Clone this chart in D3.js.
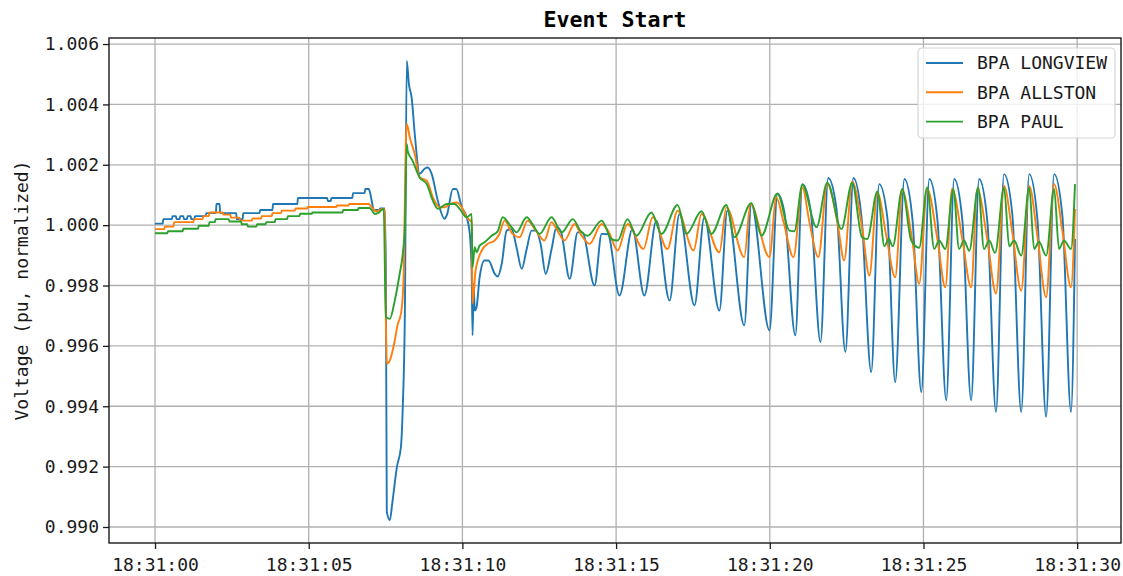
<!DOCTYPE html>
<meta charset="utf-8">
<html>
<style>
body { margin: 0; background: #fff; }
svg { display: block; font-family: "DejaVu Sans Mono", monospace; }
.tick text { font-size: 18px; fill: #1a1a1a; }
.tick line { stroke: #1a1a1a; stroke-width: 1.3px; }
.grid line { stroke: #b0b0b0; stroke-width: 1.3px; }
</style>
<svg width="1123" height="576"></svg>
<script src="https://d3js.org/d3.v7.min.js"></script>
<script>
// seconds after 18:31:00, voltage (pu, normalized)
var longview = [
  [0,1.00005],[0.25,1.00005],[0.27,1.0002],[0.55,1.0002],[0.57,1.0003],[0.68,1.0003],[0.7,1.0002],[0.8,1.0002],[0.82,1.0003],[0.92,1.0003],[0.94,1.0002],[1.04,1.0002],[1.06,1.0003],[1.16,1.0003],[1.18,1.0002],[1.28,1.0002],[1.3,1.0003],[1.65,1.0003],[1.67,1.0004],[1.98,1.0004],[2.0,1.0007],[2.1,1.0007],[2.12,1.0004],[2.64,1.0004],[2.66,1.0002],[2.85,1.0002],[2.87,1.0004],[3.4,1.0004],[3.42,1.0005],[3.82,1.0005],[3.84,1.0007],[4.63,1.0007],[4.65,1.0009],[5.6,1.0009],[5.62,1.0008],[5.72,1.0008],[5.74,1.0009],[6.42,1.0009],[6.44,1.00106],[6.82,1.00106],[6.84,1.0012],[6.95,1.0012],[7.0,1.00106],[7.05,1.0008],[7.12,1.0005],[7.3,1.0005],[7.32,1.00055],[7.47,1.00055],
  [7.51,0.9985],[7.54,0.99051],[7.64,0.99023],[7.72,0.9908],[7.87,0.99199],[8.0,0.99265],[8.06,0.99398],[8.13,0.99728],[8.19,1.00544],[8.26,1.00467],[8.35,1.00422],[8.45,1.00302],[8.61,1.0017],[8.77,1.00187],[8.87,1.00191],[9.0,1.0017],[9.2,1.00081],[9.42,1.00021],[9.5,1.00035],[9.69,1.0012],[9.8,1.0012],[9.98,1.00059],[10.14,1.00026],[10.24,0.99972],[10.3,0.9985],[10.33,0.99635],[10.37,0.99806],[10.4,0.99717],[10.46,0.99728],[10.56,0.99827],[10.72,0.99883],[10.85,0.99883],[11.05,0.99839],[11.15,0.9983],[11.28,0.99872],[11.44,0.99982],[11.6,0.99987],[11.76,0.99927],[11.93,0.99855],[12.09,0.9992],[12.25,0.99982],[12.4,0.99982],[12.55,0.99935],[12.71,0.99839],[12.9,0.9992],[13.06,0.99993],[13.2,0.9998],[13.49,0.99822],[13.75,0.99976],[13.9,0.99976],[14.3,0.998],[14.53,0.99971],[14.73,0.9997],[15.11,0.99767],[15.53,0.99987],[15.92,0.99767],[16.31,1.00015],[16.74,0.9975],[17.06,1.00037],[17.55,0.99734],[17.87,1.00026],[18.36,0.99717],[18.62,1.00048],[19.17,0.99668],[19.4,1.0007],[19.99,0.99651],[20.25,1.00103],[20.48,1.0004],[20.83,0.99635],[21.06,1.00136],[21.33,1.00048],[21.65,0.99613],[21.9,1.00156],[22.17,1.00054],[22.46,0.9958],[22.72,1.00156],[22.99,1.0002],[23.3,0.99513],[23.56,1.00136],[23.83,1.0002],[24.08,0.9948],[24.38,1.00153],[24.65,1.0001],[24.93,0.99447],[25.19,1.00153],[25.46,1.0001],[25.74,0.9942],[26.0,1.00153],[26.27,1.0001],[26.55,0.9942],[26.81,1.00153],[27.08,1.0001],[27.36,0.99381],[27.62,1.00169],[27.89,1.00037],[28.18,0.99381],[28.44,1.00169],[28.71,1.00015],[28.99,0.99365],[29.25,1.00169],[29.52,1.0003],[29.8,0.99381],[29.93,0.99954]
];
var allston = [
  [0,0.99987],[0.3,0.99987],[0.32,0.99995],[0.6,0.99995],[0.62,1.0001],[1.25,1.0001],[1.27,1.0002],[1.55,1.0002],[1.57,1.0003],[1.75,1.0003],[1.77,1.00042],[2.2,1.00042],[2.22,1.00035],[2.45,1.00035],[2.47,1.00025],[2.75,1.00025],[2.77,1.00015],[3.15,1.00015],[3.17,1.00022],[3.45,1.00022],[3.47,1.0003],[3.8,1.0003],[3.82,1.0004],[4.1,1.0004],[4.12,1.00048],[4.55,1.00048],[4.57,1.00055],[4.95,1.00055],[4.97,1.0006],[5.9,1.0006],[5.92,1.00065],[6.3,1.00065],[6.32,1.0007],[6.95,1.0007],[7.05,1.0006],[7.2,1.00045],[7.38,1.00054],[7.47,1.0005],
  [7.51,0.99684],[7.54,0.99541],[7.64,0.99552],[7.8,0.99618],[7.9,0.99673],[7.96,0.9969],[8.03,0.99728],[8.09,0.99839],[8.16,1.00279],[8.19,1.00335],[8.29,1.0029],[8.45,1.00235],[8.61,1.00158],[8.84,1.00147],[9.04,1.00092],[9.26,1.00059],[9.42,1.00059],[9.59,1.0007],[9.81,1.00075],[9.98,1.00059],[10.14,1.00026],[10.3,1.00009],[10.33,0.9974],[10.43,0.9985],[10.63,0.99916],[10.82,0.99938],[11.05,0.99949],[11.2,0.9997],[11.37,1.00015],[11.63,0.99971],[11.86,0.9996],[12.12,1.00015],[12.4,0.9998],[12.67,0.99949],[12.9,1.0001],[13.1,0.9998],[13.32,0.99949],[13.65,1.00004],[13.85,0.9997],[14.14,0.99938],[14.53,1.00004],[14.75,0.9998],[15.05,0.99916],[15.37,1.00004],[15.89,0.99921],[16.19,1.00026],[16.67,0.99921],[17.0,1.00048],[17.52,0.99916],[17.78,1.00037],[18.36,0.9991],[18.59,1.00059],[19.17,0.99894],[19.37,1.0007],[19.99,0.99894],[20.21,1.00092],[20.45,1.0001],[20.77,0.99894],[21.06,1.00125],[21.29,1.0001],[21.58,0.99894],[21.87,1.00138],[22.2,1.0001],[22.42,0.99883],[22.68,1.00145],[23.01,0.99987],[23.24,0.99833],[23.5,1.00108],[23.79,0.99965],[24.08,0.99827],[24.31,1.00114],[24.63,0.99954],[24.86,0.99806],[25.12,1.0012],[25.46,0.99949],[25.71,0.99794],[25.93,1.0012],[26.27,0.9995],[26.55,0.99794],[26.75,1.0012],[27.08,0.9995],[27.36,0.99773],[27.62,1.0013],[27.89,0.99976],[28.18,0.99783],[28.44,1.0013],[28.71,0.9996],[28.99,0.99761],[29.25,1.00136],[29.52,0.9998],[29.8,0.99794],[29.93,1.00054]
];
var paul = [
  [0,0.99973],[0.4,0.99973],[0.42,0.9998],[0.9,0.9998],[0.92,0.99988],[1.4,0.99988],[1.42,0.99998],[1.75,0.99998],[1.77,1.0001],[1.95,1.0001],[1.97,1.0002],[2.4,1.0002],[2.42,1.00012],[2.8,1.00012],[2.82,1.00003],[3.0,1.00003],[3.02,0.99995],[3.3,0.99995],[3.32,1.00003],[3.6,1.00003],[3.62,1.0001],[3.9,1.0001],[3.92,1.0002],[4.3,1.0002],[4.32,1.0003],[4.7,1.0003],[4.72,1.00038],[5.1,1.00038],[5.12,1.00042],[6.1,1.00042],[6.12,1.0005],[6.6,1.0005],[6.62,1.00057],[6.98,1.00057],[7.05,1.0005],[7.15,1.00037],[7.25,1.0004],[7.44,1.00054],
  [7.51,0.99695],[7.64,0.9969],[7.8,0.9975],[7.96,0.99839],[8.06,0.99905],[8.13,1.0],[8.19,1.00268],[8.22,1.00246],[8.38,1.00213],[8.61,1.00158],[8.84,1.00136],[9.04,1.00081],[9.2,1.00054],[9.49,1.0007],[9.75,1.0007],[9.91,1.00054],[10.14,1.00026],[10.3,1.00037],[10.33,0.9986],[10.4,0.99927],[10.46,0.9991],[10.56,0.99932],[10.72,0.99943],[10.95,0.99965],[11.15,0.9998],[11.31,1.00026],[11.6,0.99993],[11.76,0.99976],[12.09,1.00026],[12.3,1.0],[12.51,0.99971],[12.9,1.00026],[13.23,0.99976],[13.59,1.0002],[13.85,0.9998],[14.07,0.99965],[14.53,1.00015],[14.85,0.99954],[15.05,0.99949],[15.37,1.0002],[15.66,0.99965],[16.15,1.00042],[16.48,0.99971],[17.0,1.00067],[17.29,0.99971],[17.78,1.00046],[18.1,0.99971],[18.59,1.00067],[18.85,0.9996],[19.4,1.00073],[19.73,0.99965],[20.25,1.00105],[20.64,0.99982],[20.8,0.9998],[21.06,1.00134],[21.52,0.99993],[21.87,1.00141],[22.33,0.99987],[22.68,1.00141],[23.0,0.9996],[23.17,0.99954],[23.5,1.00112],[23.73,0.9993],[23.87,0.99955],[24.0,0.9993],[24.31,1.0012],[24.6,0.9995],[24.86,0.99925],[25.12,1.00125],[25.35,0.99921],[25.51,0.99949],[25.71,0.99921],[25.97,1.0012],[26.16,0.99921],[26.32,0.99949],[26.49,0.99915],[26.78,1.00125],[26.97,0.99921],[27.14,0.99949],[27.33,0.99908],[27.62,1.00125],[27.79,0.9993],[27.95,0.99949],[28.18,0.99899],[28.44,1.00125],[28.6,0.99921],[28.76,0.99945],[28.99,0.99899],[29.25,1.0012],[29.41,0.99921],[29.57,0.99949],[29.8,0.99921],[29.93,1.00136]
];

var seriesNames = ["BPA LONGVIEW", "BPA ALLSTON", "BPA PAUL"];
var seriesColors = ["#1f77b4", "#ff7f0e", "#2ca02c"];
var yTicks = [0.990, 0.992, 0.994, 0.996, 0.998, 1.000, 1.002, 1.004, 1.006];
var xTickSeconds = [0, 5, 10, 15, 20, 25, 30];
var startTime = new Date(2020, 0, 1, 18, 31, 0);

var series = [longview, allston, paul];

var svg = d3.select("svg"),
    margin = {top: 38, right: 2, bottom: 33, left: 109},
    width = +svg.attr("width") - margin.left - margin.right,
    height = +svg.attr("height") - margin.top - margin.bottom;

svg.append("rect").attr("width", 1123).attr("height", 576).attr("fill", "#fff");

var g = svg.append("g").attr("transform", "translate(" + margin.left + "," + margin.top + ")");

function toDate(s) { return new Date(startTime.getTime() + s * 1000); }

// matplotlib-style 5% margins around the data
var allPts = d3.merge(series);
var tExt = d3.extent(allPts, d => d[0]), vExt = d3.extent(allPts, d => d[1]);
var tPad = (tExt[1] - tExt[0]) * 0.05, vPad = (vExt[1] - vExt[0]) * 0.05;

var x = d3.scaleTime()
    .domain([toDate(tExt[0] - tPad), toDate(tExt[1] + tPad)])
    .range([0, width]);
var y = d3.scaleLinear()
    .domain([vExt[0] - vPad, vExt[1] + vPad])
    .range([height, 0]);

// grid
g.append("g").attr("class", "grid")
  .selectAll("line").data(xTickSeconds).join("line")
    .attr("x1", d => x(toDate(d))).attr("x2", d => x(toDate(d)))
    .attr("y1", 0).attr("y2", height);
g.append("g").attr("class", "grid")
  .selectAll("line").data(yTicks).join("line")
    .attr("y1", d => y(d)).attr("y2", d => y(d))
    .attr("x1", 0).attr("x2", width);

// axes
var xAxis = g.append("g")
    .attr("transform", "translate(0," + height + ")")
    .call(d3.axisBottom(x)
      .tickValues(xTickSeconds.map(toDate))
      .tickFormat(d3.timeFormat("%H:%M:%S"))
      .tickSize(6).tickPadding(9));
var yAxis = g.append("g")
    .call(d3.axisLeft(y)
      .tickValues(yTicks)
      .tickFormat(d3.format(".3f"))
      .tickSize(6).tickPadding(4));
xAxis.select(".domain").remove();
yAxis.select(".domain").remove();
svg.selectAll(".tick text").attr("font-family", "DejaVu Sans Mono");

// lines
var line = d3.line()
    .x(d => x(toDate(d[0])))
    .y(d => y(d[1]))
    .curve(d3.curveMonotoneX);

g.append("g").selectAll("path")
  .data(series).join("path")
    .attr("d", line)
    .attr("fill", "none")
    .attr("stroke", (d, i) => seriesColors[i])
    .attr("stroke-width", 1.9)
    .attr("stroke-linejoin", "round");

// frame
g.append("rect")
    .attr("width", width).attr("height", height)
    .attr("fill", "none").attr("stroke", "#1a1a1a").attr("stroke-width", 1.4);

// title + y label
svg.append("text")
    .attr("x", margin.left + width / 2).attr("y", 27)
    .attr("text-anchor", "middle")
    .style("font-size", "21.6px").style("font-weight", "bold")
    .text("Event Start");

svg.append("text")
    .attr("transform", "translate(28," + (margin.top + height / 2) + ") rotate(-90)")
    .attr("text-anchor", "middle")
    .style("font-size", "18px").attr("fill", "#1a1a1a")
    .text("Voltage (pu, normalized)");

// legend
var legend = svg.append("g").attr("transform", "translate(918,48)");
legend.append("rect")
    .attr("width", 197).attr("height", 90).attr("rx", 4)
    .attr("fill", "#fff").attr("fill-opacity", 0.8)
    .attr("stroke", "#d5d5d5").attr("stroke-width", 1.2);
var item = legend.selectAll(".item").data(seriesNames).join("g")
    .attr("transform", (d, i) => "translate(0," + (15 + i * 29.3) + ")");
item.append("line")
    .attr("x1", 8).attr("x2", 45)
    .attr("stroke", (d, i) => seriesColors[i]).attr("stroke-width", 1.9);
item.append("text")
    .attr("x", 59).attr("dy", "0.35em")
    .style("font-size", "18px").attr("fill", "#1a1a1a")
    .text(d => d);
</script>
</html>
